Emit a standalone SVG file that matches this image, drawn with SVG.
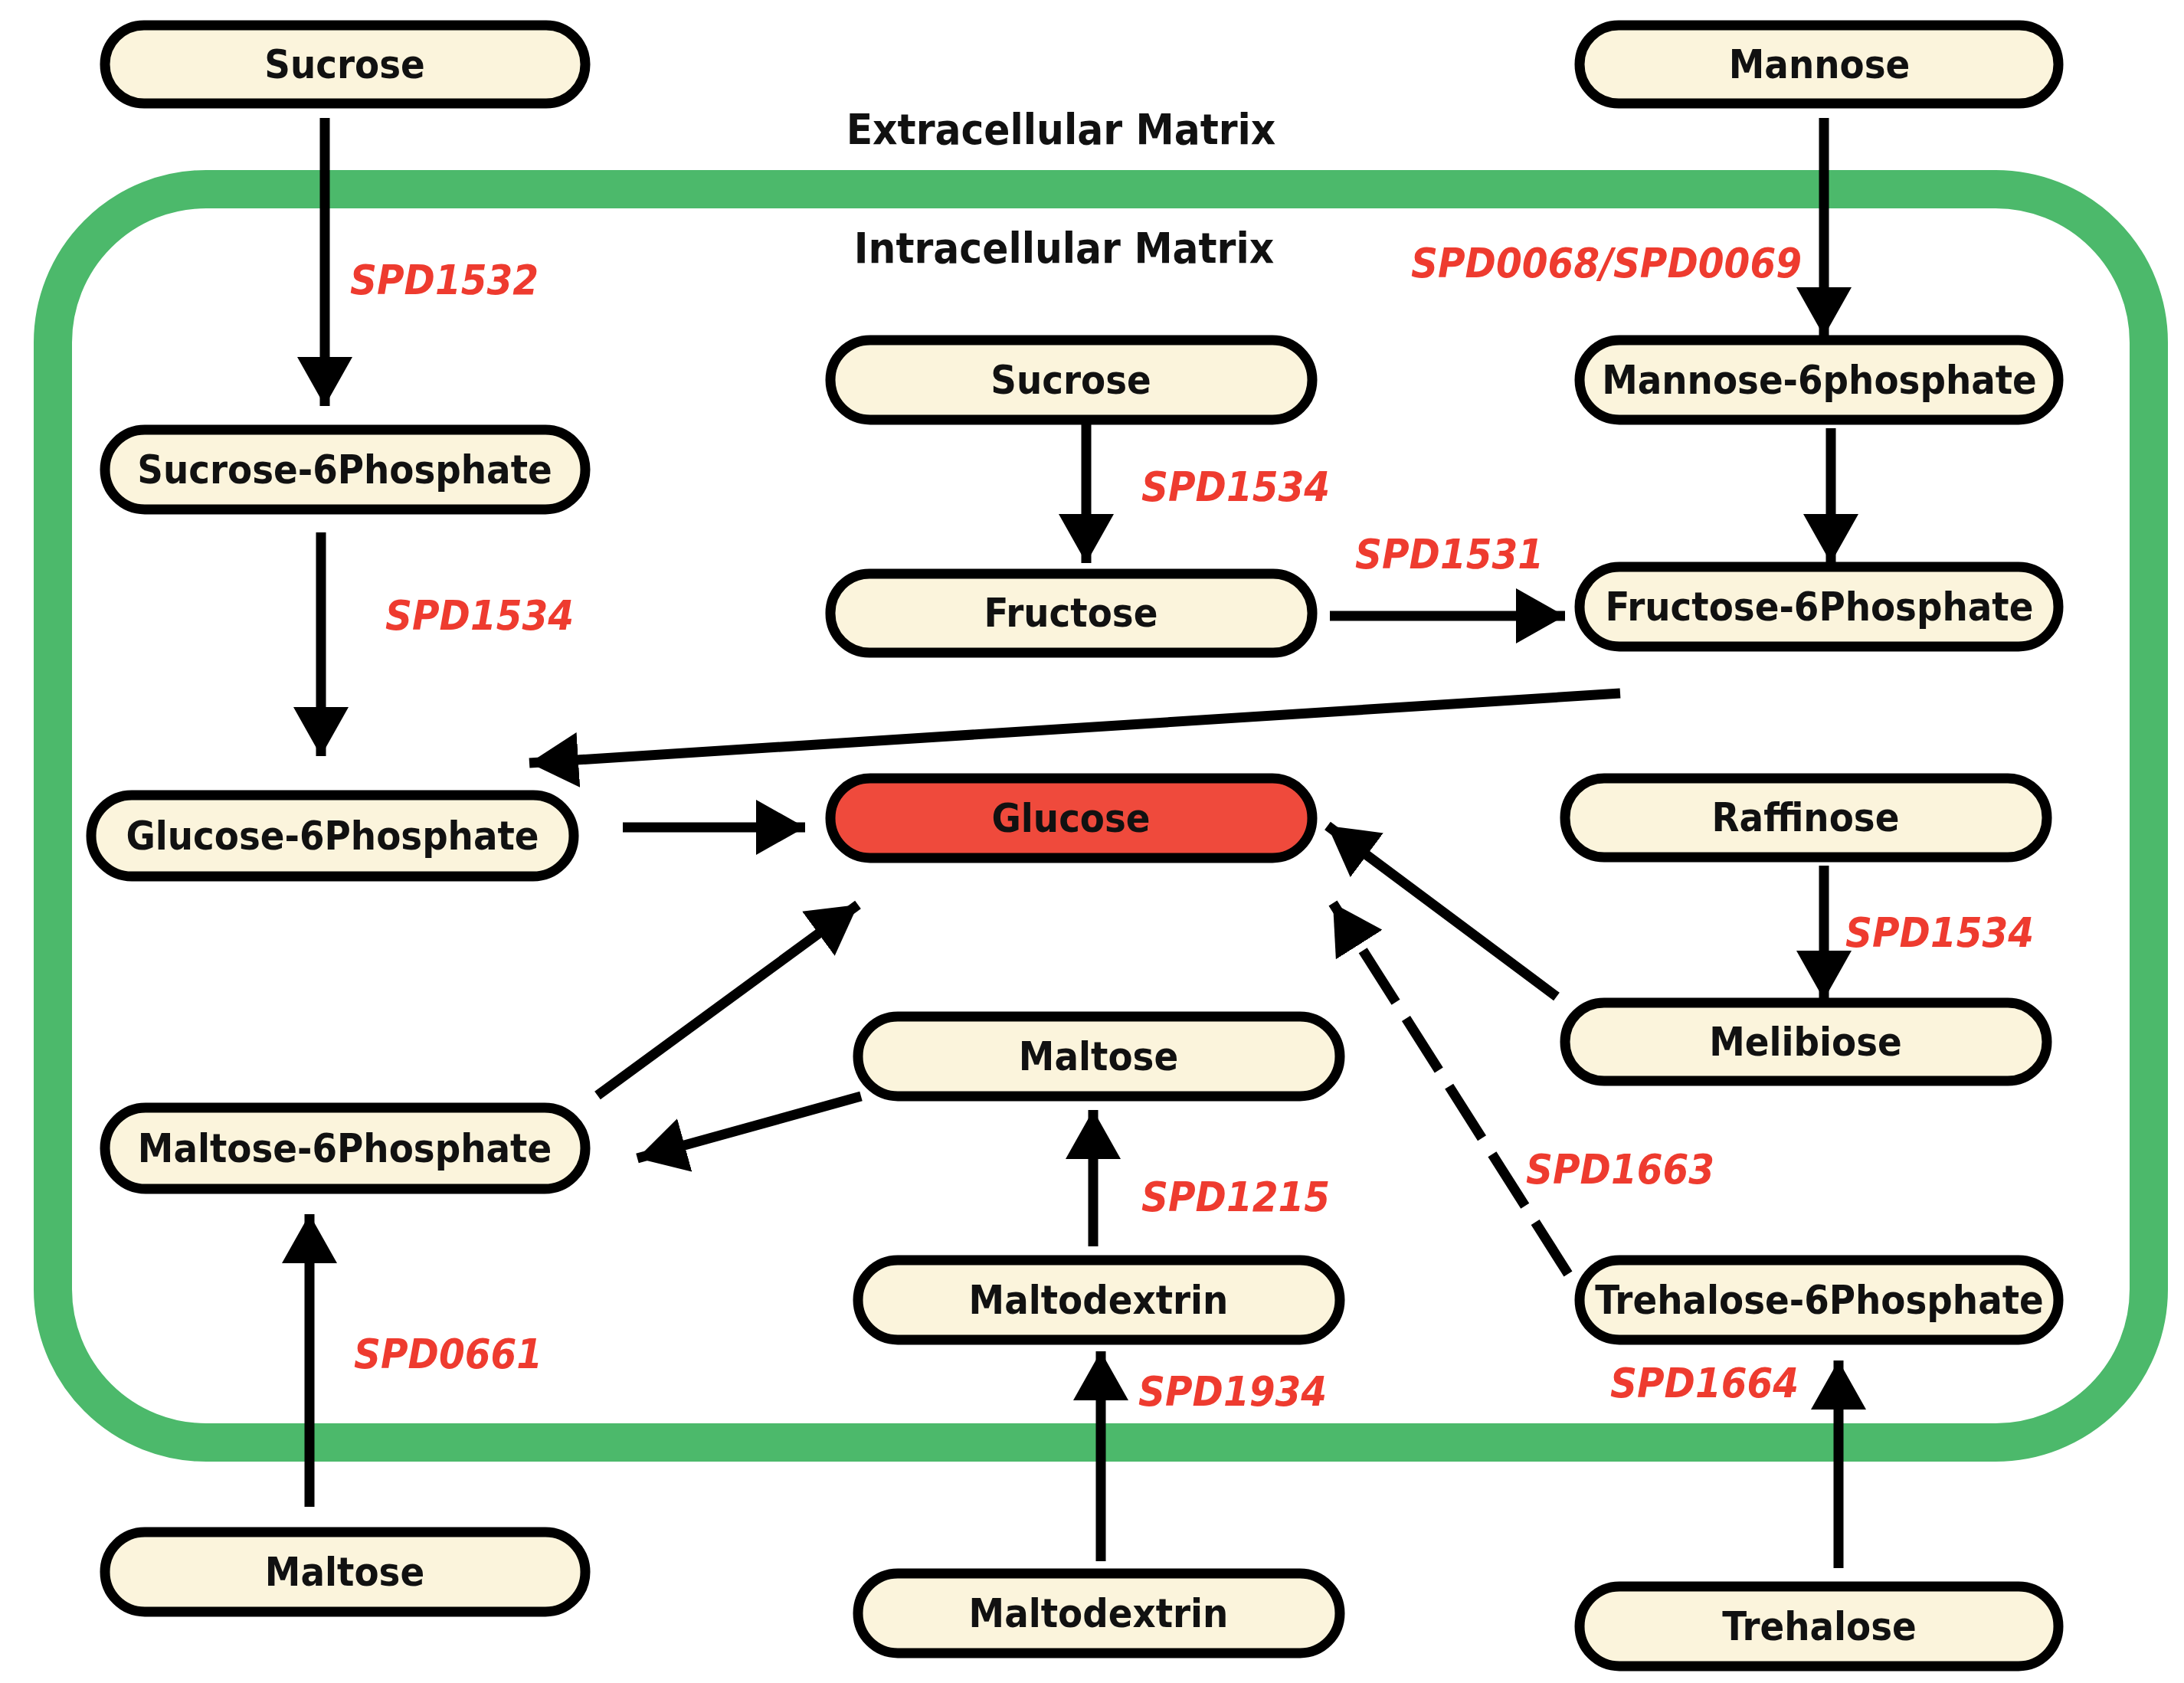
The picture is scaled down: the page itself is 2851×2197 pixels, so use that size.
<svg xmlns="http://www.w3.org/2000/svg" width="2851" height="2197" viewBox="0 0 2851 2197">
<style>
.n{fill:#fbf4dc;stroke:#000;stroke-width:13}
.g{fill:#ef4a3c}
.t{font-family:"DejaVu Sans Condensed","DejaVu Sans",sans-serif;font-weight:bold;font-size:52px;text-anchor:middle;dominant-baseline:central;fill:#111}
.h{font-family:"DejaVu Sans Condensed","DejaVu Sans",sans-serif;font-weight:bold;font-size:56px;text-anchor:middle;fill:#111}
.l{font-family:"DejaVu Sans Condensed","DejaVu Sans",sans-serif;font-weight:bold;font-style:italic;font-size:54px;fill:#ee3b2f}
.a{stroke:#000;stroke-width:13;fill:none;marker-end:url(#ah)}
</style>
<defs>
<marker id="ah" markerUnits="userSpaceOnUse" markerWidth="70" markerHeight="72" refX="64" refY="36" orient="auto">
<path d="M0,0 L64,36 L0,72 Z" fill="#000"/>
</marker>
</defs>
<rect width="2851" height="2197" fill="#fff"/>
<rect x="69" y="247" width="2736" height="1636" rx="200" fill="none" stroke="#4cb96b" stroke-width="50"/>
<text class="h" x="1385" y="188">Extracellular Matrix</text>
<text class="h" x="1389" y="343">Intracellular Matrix</text>
<g id="connectors">
<line class="a" x1="424" y1="154" x2="424" y2="530"/>
<line class="a" x1="419" y1="695" x2="419" y2="987"/>
<line class="a" x1="2381" y1="154" x2="2381" y2="439"/>
<line class="a" x1="2390" y1="559" x2="2390" y2="735"/>
<line class="a" x1="1418" y1="552" x2="1418" y2="735"/>
<line class="a" x1="1736" y1="804" x2="2043" y2="804"/>
<line class="a" x1="2115" y1="905" x2="691" y2="996"/>
<line class="a" x1="813" y1="1080" x2="1051" y2="1080"/>
<line class="a" x1="780" y1="1430" x2="1120" y2="1181"/>
<line class="a" x1="1124" y1="1431" x2="832" y2="1512"/>
<line class="a" x1="1427" y1="1627" x2="1427" y2="1449"/>
<line class="a" x1="1437" y1="2038" x2="1437" y2="1764"/>
<line class="a" x1="404" y1="1967" x2="404" y2="1585"/>
<line class="a" x1="2381" y1="1130" x2="2381" y2="1305"/>
<line class="a" x1="2032" y1="1301" x2="1733" y2="1078"/>
<line class="a" x1="2047" y1="1663" x2="1740" y2="1179" stroke-dasharray="80 25"/>
<line class="a" x1="2400" y1="2047" x2="2400" y2="1776"/>
</g>
<g id="n1"><rect class="n" x="137" y="33" width="627" height="102" rx="51"/><text class="t" x="450" y="84">Sucrose</text></g>
<g id="n2"><rect class="n" x="2062" y="33" width="625" height="102" rx="51"/><text class="t" x="2375" y="84">Mannose</text></g>
<g id="n3"><rect class="n" x="1084" y="444" width="629" height="104" rx="52"/><text class="t" x="1398" y="496">Sucrose</text></g>
<g id="n4"><rect class="n" x="2062" y="444" width="625" height="104" rx="52"/><text class="t" x="2375" y="496">Mannose-6phosphate</text></g>
<g id="n5"><rect class="n" x="137" y="561" width="627" height="104" rx="52"/><text class="t" x="450" y="613">Sucrose-6Phosphate</text></g>
<g id="n6"><rect class="n" x="1084" y="749" width="629" height="103" rx="51"/><text class="t" x="1398" y="800">Fructose</text></g>
<g id="n7"><rect class="n" x="2062" y="740" width="625" height="104" rx="52"/><text class="t" x="2375" y="792">Fructose-6Phosphate</text></g>
<g id="n8"><rect class="n" x="119" y="1038" width="630" height="106" rx="53"/><text class="t" x="434" y="1091">Glucose-6Phosphate</text></g>
<g id="n9"><rect class="n g" x="1084" y="1016" width="629" height="104" rx="52"/><text class="t" x="1398" y="1068">Glucose</text></g>
<g id="n10"><rect class="n" x="2043" y="1016" width="629" height="103" rx="51"/><text class="t" x="2357" y="1067">Raffinose</text></g>
<g id="n11"><rect class="n" x="2043" y="1309" width="629" height="102" rx="51"/><text class="t" x="2357" y="1360">Melibiose</text></g>
<g id="n12"><rect class="n" x="1120" y="1327" width="629" height="104" rx="52"/><text class="t" x="1434" y="1379">Maltose</text></g>
<g id="n13"><rect class="n" x="137" y="1446" width="627" height="106" rx="53"/><text class="t" x="450" y="1499">Maltose-6Phosphate</text></g>
<g id="n14"><rect class="n" x="1120" y="1645" width="629" height="104" rx="52"/><text class="t" x="1434" y="1697">Maltodextrin</text></g>
<g id="n15"><rect class="n" x="2062" y="1645" width="625" height="104" rx="52"/><text class="t" x="2375" y="1697">Trehalose-6Phosphate</text></g>
<g id="n16"><rect class="n" x="137" y="2000" width="627" height="104" rx="52"/><text class="t" x="450" y="2052">Maltose</text></g>
<g id="n17"><rect class="n" x="1120" y="2054" width="629" height="104" rx="52"/><text class="t" x="1434" y="2106">Maltodextrin</text></g>
<g id="n18"><rect class="n" x="2062" y="2071" width="625" height="104" rx="52"/><text class="t" x="2375" y="2123">Trehalose</text></g>
<g id="labels">
<text class="l" x="457" y="384">SPD1532</text>
<text class="l" x="503" y="822">SPD1534</text>
<text class="l" x="1842" y="362">SPD0068/SPD0069</text>
<text class="l" x="1490" y="654">SPD1534</text>
<text class="l" x="1769" y="742">SPD1531</text>
<text class="l" x="2409" y="1236">SPD1534</text>
<text class="l" x="1992" y="1545">SPD1663</text>
<text class="l" x="1490" y="1581">SPD1215</text>
<text class="l" x="462" y="1786">SPD0661</text>
<text class="l" x="1486" y="1835">SPD1934</text>
<text class="l" x="2102" y="1824">SPD1664</text>
</g>
</svg>
